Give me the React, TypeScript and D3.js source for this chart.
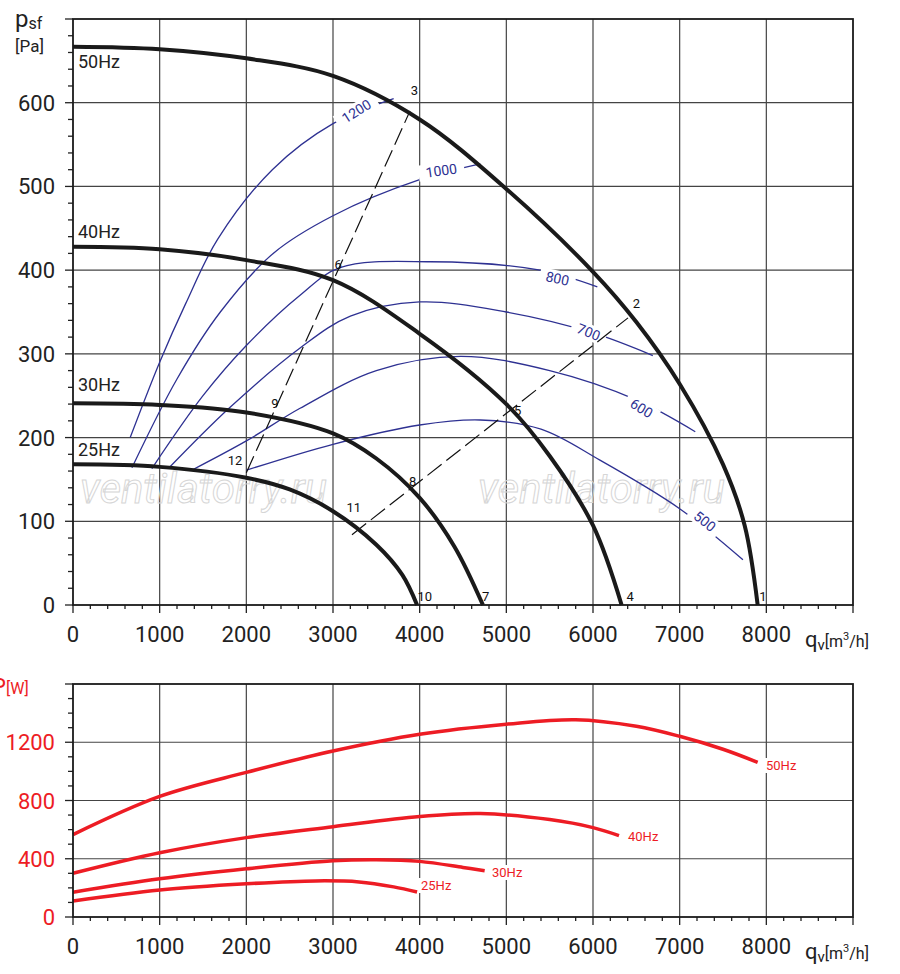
import React from 'react';
import * as d3 from 'd3';

type Pt = [number, number];

// fan curves, psf [Pa] vs qv [m3/h]
const fan50: Pt[] = [[0, 667], [1000, 664], [2000, 653], [3000, 632], [4000, 580], [5000, 497], [6000, 398], [6500, 338], [7000, 264], [7500, 168], [7750, 95], [7900, 0]];
const fan40: Pt[] = [[0, 428], [1000, 425], [2000, 412], [3000, 388], [4000, 324], [5000, 240], [5500, 178], [6000, 95], [6330, 0]];
const fan30: Pt[] = [[0, 241], [1000, 239], [2000, 230], [3000, 205], [3500, 175], [4000, 128], [4400, 70], [4730, 0]];
const fan25: Pt[] = [[0, 168], [1000, 165], [2000, 152], [2500, 138], [3000, 112], [3500, 72], [3800, 36], [3970, 0]];
const fanLabels = ['50Hz', '40Hz', '30Hz', '25Hz'];

// rpm curves
const rpm1200: Pt[] = [[660, 200], [1000, 290], [1300, 360], [1670, 437], [2300, 520], [3000, 575], [3700, 605]];
const rpm1000: Pt[] = [[680, 164], [1200, 270], [1700, 350], [2310, 420], [3000, 465], [4000, 508], [4700, 527]];
const rpm800: Pt[] = [[910, 163], [1500, 250], [2000, 310], [2620, 370], [3080, 403], [4120, 410], [5390, 400], [6050, 380]];
const rpm700: Pt[] = [[1100, 163], [1800, 235], [2620, 307], [3200, 345], [4000, 362], [5000, 350], [6000, 325], [6690, 298]];
const rpm600: Pt[] = [[1370, 161], [2000, 196], [2620, 235], [3500, 280], [4470, 297], [5500, 280], [6500, 245], [7180, 207]];
const rpm500: Pt[] = [[2000, 161], [3000, 192], [4000, 215], [4700, 221], [5400, 210], [6080, 173], [7000, 115], [7730, 54]];
const rpmLabels = ['1200', '1000', '800', '700', '600', '500'];
const rpmLabelPos: Pt[] = [[3270, 590], [4250, 519], [5590, 390], [5950, 326], [6560, 235], [7290, 100]];
const rpmLabelRot = [-32, -8, 12, 22, 32, 38];

// system lines
const sysA: Pt[] = [[2000, 158], [3888, 590]];
const sysB: Pt[] = [[3219, 84], [6404, 343]];
const pointNames = ['1', '2', '3', '4', '5', '6', '7', '8', '9', '10', '11', '12'];
const pointPos: Pt[] = [[7960, 0], [6500, 350], [3940, 604], [6430, 0], [5130, 222], [3060, 396], [4760, 0], [3920, 137], [2330, 230], [4060, 0], [3240, 106], [1870, 163]];

// power curves P [W]
const pow50: Pt[] = [[0, 566], [1000, 828], [2000, 993], [3000, 1140], [4000, 1255], [5000, 1324], [5800, 1355], [6500, 1310], [7000, 1241], [7500, 1152], [7900, 1062]];
const pow40: Pt[] = [[0, 300], [1000, 441], [2000, 545], [3000, 620], [4000, 690], [4700, 710], [5500, 669], [6000, 614], [6300, 559]];
const pow30: Pt[] = [[0, 170], [1000, 262], [2000, 331], [3000, 386], [3500, 393], [4000, 382], [4500, 340], [4750, 317]];
const pow25: Pt[] = [[0, 110], [1000, 186], [2000, 228], [2800, 248], [3300, 241], [3700, 207], [3970, 172]];

const xTicks = [0, 1000, 2000, 3000, 4000, 5000, 6000, 7000, 8000];
const pTicks = [0, 100, 200, 300, 400, 500, 600];
const wTicks = [0, 400, 800, 1200];

const FONT = 'Roboto, "DejaVu Sans", sans-serif';
const BLUE = '#2e3192';
const RED = '#ed1c24';

export default function App() {
  const x = d3.scaleLinear().domain([0, 9000]).range([73, 853]);
  const y = d3.scaleLinear().domain([0, 700]).range([605, 19]);
  const y2 = d3.scaleLinear().domain([0, 1600]).range([917, 684]);
  const line = d3.line<Pt>().x(d => x(d[0])).y(d => y(d[1])).curve(d3.curveCatmullRom);
  const sysLine = d3.line<Pt>().x(d => x(d[0])).y(d => y(d[1]));
  const pLine = d3.line<Pt>().x(d => x(d[0])).y(d => y2(d[1])).curve(d3.curveCatmullRom);
  const minorX = d3.range(0, 9001, 200);

  const fans = [fan50, fan40, fan30, fan25];
  const rpms = [rpm1200, rpm1000, rpm800, rpm700, rpm600, rpm500];
  const pows = [pow50, pow40, pow30, pow25];
  const fanLabelY = [68, 238, 391, 456];
  const powLabelY = [770, 841, 877, 890];
  const powLabelX = [766, 628, 492, 421];

  const xAxis = (yb: number) => (
    <g>
      {minorX.map(v => (
        <line key={v} x1={x(v)} x2={x(v)} y1={yb} y2={yb + (v % 1000 === 0 ? 8 : 4)} stroke="#222" strokeWidth={1.3} />
      ))}
      {xTicks.map(v => (
        <text key={v} x={x(v)} y={yb + 37} textAnchor="middle" fontSize={22} fill="#222">{v}</text>
      ))}
      <text x={805} y={yb + 42} fontSize={22} fill="#222">q<tspan fontSize={15} dy={3}>v</tspan><tspan fontSize={16} dy={-3}>[m</tspan><tspan fontSize={11} dy={-7}>3</tspan><tspan fontSize={16} dy={7}>/h]</tspan></text>
    </g>
  );

  return (
    <svg width={900} height={974} style={{ position: 'absolute', left: 0, top: 0, fontFamily: FONT }}>
      <rect width={900} height={974} fill="#fff" />
      {/* top chart grid */}
      {xTicks.slice(1).map(v => <line key={v} x1={x(v)} x2={x(v)} y1={19} y2={605} stroke="#444" strokeWidth={1.2} />)}
      {pTicks.slice(1).map(v => <line key={v} x1={73} x2={853} y1={y(v)} y2={y(v)} stroke="#444" strokeWidth={1.2} />)}
      {d3.range(0, 701, 20).map(v => (
        <line key={v} x1={73 - (v % 100 === 0 ? 8 : 5)} x2={73} y1={y(v)} y2={y(v)} stroke="#222" strokeWidth={1.3} />
      ))}
      {pTicks.map(v => <text key={v} x={55} y={y(v) + 8} textAnchor="end" fontSize={22} fill="#222">{v}</text>)}
      <text x={15} y={27} fontSize={24} fill="#222">p<tspan fontSize={16} dy={2}>sf</tspan></text>
      <text x={15} y={52} fontSize={17} fill="#222">[Pa]</text>
      {xAxis(605)}
      {/* watermark */}
      {[80, 478].map(px => (
        <text key={px} x={px} y={503} fontSize={42} fontStyle="italic" fill="none" stroke="#d6d6d6" strokeWidth={1}>ventilatorry.ru</text>
      ))}
      {/* rpm curves */}
      {rpms.map((r, i) => <path key={i} d={line(r) || ''} fill="none" stroke={BLUE} strokeWidth={1.3} />)}
      {rpmLabels.map((t, i) => (
        <g key={t} transform={`translate(${x(rpmLabelPos[i][0])},${y(rpmLabelPos[i][1])}) rotate(${rpmLabelRot[i]})`}>
          <rect x={-t.length * 5 - 3} y={-8} width={t.length * 10 + 6} height={16} fill="#fff" />
          <text textAnchor="middle" y={5} fontSize={14} fill={BLUE}>{t}</text>
        </g>
      ))}
      {/* system lines */}
      {[sysA, sysB].map((s, i) => (
        <path key={i} d={sysLine(s) || ''} fill="none" stroke="#111" strokeWidth={1.2} strokeDasharray="18,6" />
      ))}
      {/* fan curves */}
      {fans.map((f, i) => <path key={i} d={line(f) || ''} fill="none" stroke="#1a1a1a" strokeWidth={4} />)}
      {fanLabels.map((t, i) => (
        <g key={t}>
          <rect x={76} y={fanLabelY[i] - 15} width={54} height={17} fill="#fff" />
          <text x={78} y={fanLabelY[i]} fontSize={18} fill="#222">{t}</text>
        </g>
      ))}
      {pointNames.map((t, i) => (
        <text key={t} x={x(pointPos[i][0])} y={y(pointPos[i][1]) - 4} textAnchor="middle" fontSize={13} fill="#111">{t}</text>
      ))}
      <rect x={73} y={19} width={780} height={586} fill="none" stroke="#1a1a1a" strokeWidth={1.8} />

      {/* bottom chart */}
      {xTicks.slice(1).map(v => <line key={v} x1={x(v)} x2={x(v)} y1={684} y2={917} stroke="#444" strokeWidth={1.2} />)}
      {wTicks.slice(1).map(v => <line key={v} x1={73} x2={853} y1={y2(v)} y2={y2(v)} stroke="#444" strokeWidth={1.2} />)}
      {d3.range(0, 1601, 100).map(v => (
        <line key={v} x1={73 - (v % 400 === 0 ? 8 : 5)} x2={73} y1={y2(v)} y2={y2(v)} stroke="#222" strokeWidth={1.3} />
      ))}
      {wTicks.map(v => <text key={v} x={55} y={y2(v) + 8} textAnchor="end" fontSize={22} fill={RED}>{v}</text>)}
      <text x={-8} y={694} fontSize={22} fill={RED}>P<tspan fontSize={16} dy={0}>[W]</tspan></text>
      {xAxis(917)}
      {pows.map((p, i) => <path key={i} d={pLine(p) || ''} fill="none" stroke={RED} strokeWidth={3.5} />)}
      {fanLabels.map((t, i) => (
        <g key={t}>
          <rect x={powLabelX[i] - 2} y={powLabelY[i] - 12} width={38} height={15} fill="#fff" />
          <text x={powLabelX[i]} y={powLabelY[i]} fontSize={13} fill={RED}>{t}</text>
        </g>
      ))}
      <rect x={73} y={684} width={780} height={233} fill="none" stroke="#1a1a1a" strokeWidth={1.8} />
    </svg>
  );
}
